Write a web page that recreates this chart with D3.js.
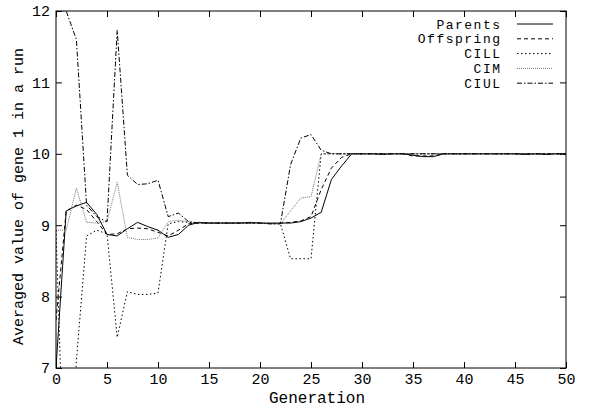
<!DOCTYPE html>
<html><head><meta charset="utf-8">
<script src="https://cdn.jsdelivr.net/npm/d3@7"></script>
<style>
body{margin:0;background:#fff;}
text{font-family:"Liberation Mono","DejaVu Sans Mono",monospace;font-size:15px;fill:#000;}
</style></head>
<body><svg id="c" width="589" height="407"></svg>
<script>
const generations = d3.range(0, 51);
const parents = [7.0,9.2,9.27,9.32,9.15,8.87,8.85,8.95,9.04,8.98,8.93,8.83,8.87,9.0,9.04,9.03,9.03,9.03,9.03,9.04,9.03,9.03,9.03,9.03,9.05,9.1,9.18,9.64,9.83,10.0,10.0,10.0,9.99,10.0,10.0,9.98,9.96,9.96,10.0,10.0,10.0,10.0,10.0,10.0,10.0,10.0,9.99,10.0,9.99,10.0,10.0];
const offspring = [7.67,9.2,9.28,9.22,9.05,8.87,8.88,8.95,8.96,8.95,8.9,8.85,8.93,9.02,9.03,9.03,9.03,9.03,9.03,9.03,9.03,9.02,9.03,9.04,9.06,9.12,9.5,9.8,9.95,10.0,10.0,10.0,10.0,10.0,10.0,9.97,9.97,9.97,10.0,10.0,10.0,10.0,10.0,10.0,10.0,10.0,10.0,10.0,10.0,10.0,10.0];
const cill = [8.93,4.5,7.1,8.85,8.93,8.88,7.43,8.07,8.03,8.03,8.05,9.02,9.05,9.04,9.03,9.03,9.03,9.03,9.03,9.03,9.03,9.02,9.02,8.53,8.53,8.53,10.0,10.0,10.0,10.0,10.0,10.0,10.0,10.0,10.0,10.0,10.0,10.0,10.0,10.0,10.0,10.0,10.0,10.0,10.0,10.0,10.0,10.0,10.0,10.0,10.0];
const cim = [8.93,8.93,9.52,9.04,9.03,9.05,9.6,8.83,8.8,8.8,8.82,9.05,9.07,9.05,9.03,9.03,9.03,9.03,9.03,9.03,9.03,9.02,9.02,9.2,9.38,9.4,10.0,10.0,10.0,10.0,10.0,10.0,10.0,10.0,10.0,10.0,10.0,10.0,10.0,10.0,10.0,10.0,10.0,10.0,10.0,10.0,10.0,10.0,10.0,10.0,10.0];
const ciul = [12.0,12.0,11.6,9.28,9.12,9.05,11.73,9.7,9.57,9.58,9.63,9.12,9.17,9.05,9.03,9.03,9.03,9.03,9.03,9.03,9.03,9.02,9.02,9.85,10.22,10.27,10.05,10.0,10.0,10.0,10.0,10.0,10.0,10.0,10.0,10.0,10.0,10.0,10.0,10.0,10.0,10.0,10.0,10.0,10.0,10.0,10.0,10.0,10.0,10.0,10.0];
const seriesNames = ["Parents","Offspring","CILL","CIM","CIUL"];
const xTicks = [0,5,10,15,20,25,30,35,40,45,50];
const yTicks = [7,8,9,10,11,12];

const styles = {
  Parents:{stroke:"#000",dash:null},
  Offspring:{stroke:"#000",dash:"4,3"},
  CILL:{stroke:"#000",dash:"1.5,2.5"},
  CIM:{stroke:"#777",dash:"1,1"},
  CIUL:{stroke:"#000",dash:"5,2,1.5,2"}
};
const seriesData = {Parents:parents,Offspring:offspring,CILL:cill,CIM:cim,CIUL:ciul};

const svg = d3.select("#c");
const L=56,R=566,T=11,B=368;
const x = d3.scaleLinear().domain([0,50]).range([L,R]);
const y = d3.scaleLinear().domain([7,12]).range([B,T]);

svg.append("clipPath").attr("id","clip").append("rect")
  .attr("x",L).attr("y",T).attr("width",R-L).attr("height",B-T);

const line = d3.line().x((d,i)=>x(generations[i])).y(d=>y(d));
const g = svg.append("g").attr("clip-path","url(#clip)");
seriesNames.forEach(n=>{
  g.append("path").datum(seriesData[n]).attr("d",line)
   .attr("fill","none").attr("stroke",styles[n].stroke).attr("stroke-width",1)
   .attr("stroke-dasharray",styles[n].dash);
});

// frame
svg.append("rect").attr("x",L).attr("y",T).attr("width",R-L).attr("height",B-T)
  .attr("fill","none").attr("stroke","#000").attr("stroke-width",1);

// axes with inward ticks (mirrored)
const fmt = d3.format("d");
const ax = svg.append("g");
ax.append("g").attr("transform",`translate(0,${B})`)
  .call(d3.axisBottom(x).tickValues(xTicks).tickSize(-6).tickPadding(5).tickFormat(fmt))
  .call(s=>s.select(".domain").remove());
ax.append("g").attr("transform",`translate(0,${T})`)
  .call(d3.axisTop(x).tickValues(xTicks).tickSize(-6).tickFormat(""))
  .call(s=>s.select(".domain").remove());
ax.append("g").attr("transform",`translate(${L},0)`)
  .call(d3.axisLeft(y).tickValues(yTicks).tickSize(-6).tickPadding(6).tickFormat(fmt))
  .call(s=>s.select(".domain").remove());
ax.append("g").attr("transform",`translate(${R},0)`)
  .call(d3.axisRight(y).tickValues(yTicks).tickSize(-6).tickFormat(""))
  .call(s=>s.select(".domain").remove());
svg.selectAll(".tick text").attr("font-family","Liberation Mono").attr("font-size","14px").attr("fill","#000");
svg.selectAll(".tick line").attr("stroke","#000");

svg.append("text").attr("x",(L+R)/2+6).attr("y",403).attr("text-anchor","middle").style("font-size","16px").text("Generation");
svg.append("text").attr("transform",`translate(23,${(T+B)/2+7}) rotate(-90)`).attr("text-anchor","middle").text("Averaged value of gene 1 in a run");

// legend
const leg = svg.append("g");
seriesNames.forEach((n,i)=>{
  const yy = 24 + i*14.8;
  leg.append("text").attr("x",501.5).attr("y",yy+4.5).attr("text-anchor","end")
    .style("font-size","13px").style("letter-spacing","1.5px").text(n);
  leg.append("line").attr("x1",517).attr("x2",553).attr("y1",yy).attr("y2",yy)
    .attr("stroke",styles[n].stroke).attr("stroke-dasharray",styles[n].dash);
});
</script></body></html>
